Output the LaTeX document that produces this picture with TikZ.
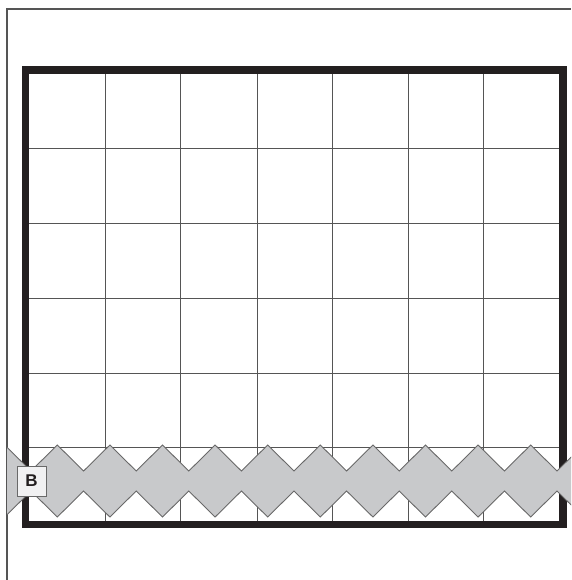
\documentclass[tikz,border=0pt]{standalone}
\usepackage{fontspec}
\setmainfont{Liberation Sans}
\usetikzlibrary{positioning}
\definecolor{BoardBlack}{RGB}{35,31,32}
\definecolor{GridGray}{RGB}{85,85,85}
\definecolor{BandGray}{RGB}{200,201,203}
\definecolor{BandEdge}{RGB}{105,105,105}
\definecolor{TagFill}{RGB}{241,241,242}
\tikzset{
  frameline/.style={line width=1.4pt,draw=GridGray},
  boardedge/.style={line width=7.6pt,draw=BoardBlack},
  gridline/.style={line width=0.9pt,draw=GridGray},
  band/.style={fill=BandGray,draw=BandEdge,line width=0.9pt,line join=miter},
  tagbox/.style={draw=BandEdge,fill=TagFill,line width=0.9pt,minimum width=29pt,minimum height=30pt,inner sep=0pt,font=\fontsize{17}{17}\selectfont\bfseries,text=BoardBlack}
}
\newcommand{\pk}[1]{4.7+52.6*(#1)}

\begin{document}
\begin{tikzpicture}[x=1pt,y=-1pt]
\useasboundingbox (0,0) rectangle (571,580);
\draw[frameline] (7,580) -- (7,9) -- (571,9);
% board grid
\foreach \x in {105,180,257,332,408,483}{\draw[gridline] (\x,74) -- (\x,521);}
\foreach \y in {148,223,298,373,447}{\draw[gridline] (29,\y) -- (559,\y);}
\draw[boardedge] (25.5,70) rectangle (563,524.5);
% zigzag band
\begin{scope}
\clip (7,0) rectangle (571,580);
\filldraw[band] ({\pk{0}},445) \foreach \k in {0,...,10}{ -- ({\pk{\k}+26.3},471) -- ({\pk{\k+1}},445)}
  -- ({\pk{11}},517) \foreach \k in {10,...,0}{ -- ({\pk{\k}+26.3},491) -- ({\pk{\k}},517)} -- cycle;
\end{scope}
\node[tagbox] (tagB) at (31.5,481) {B};
\end{tikzpicture}
\end{document}
